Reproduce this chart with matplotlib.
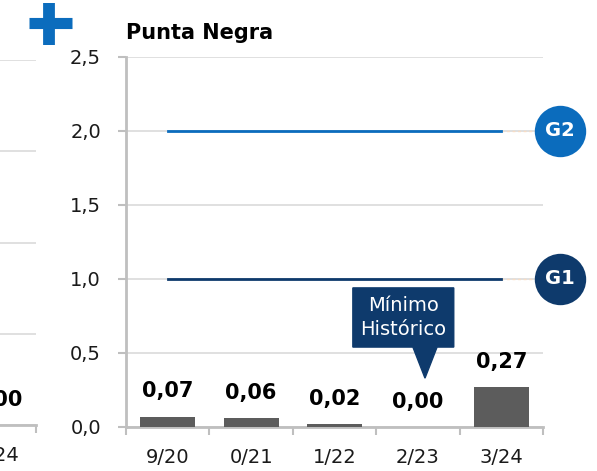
import matplotlib.pyplot as plt
import numpy as np
from matplotlib.lines import Line2D
from matplotlib.patches import Polygon

# Data
years = ["9/20", "0/21", "1/22", "2/23", "3/24"]
volumes = [0.07, 0.06, 0.02, 0.00, 0.27]
g1_level = 1.0
g2_level = 2.0
min_idx = 3  # "Mínimo Histórico"

# neighbouring panel (only its right edge is visible)
left_years = ["3/24"]
left_volumes = [0.00]

navy = "#0E3A6C"
blue = "#0B6CBD"
grey_bar = "#5C5C5C"
grid_c = "#DADADA"
spine_c = "#BFBFBF"

def fmt(v, d=2):
    return f"{v:.{d}f}".replace(".", ",")

fig = plt.figure(figsize=(5.97, 4.71), dpi=100)
W, H = 597, 471

# ---- main panel
ax = fig.add_axes([126/W, 1-427/H, (543-126)/W, (427-57)/H])
x = np.arange(len(years))
ax.bar(x, volumes, width=0.66, color=grey_bar, zorder=3)
ax.set_xlim(-0.5, len(years)-0.5)
ax.set_ylim(0, 2.5)
ax.set_yticks(np.arange(0, 2.51, 0.5))
ax.set_yticklabels([fmt(v, 1) for v in np.arange(0, 2.51, 0.5)])
ax.grid(axis="y", color=grid_c, lw=1.2, zorder=0)
ax.set_xticks(x)
ax.set_xticklabels(years)
ax.set_xticks(np.arange(-0.5, len(years)), minor=True)
ax.tick_params(axis="x", which="major", length=0, pad=15, labelsize=14, labelcolor="#1a1a1a")
ax.tick_params(axis="x", which="minor", length=6, width=1.5, color=spine_c)
ax.tick_params(axis="y", length=6, width=1.5, color=spine_c, pad=12, labelsize=14, labelcolor="#1a1a1a")
for s in ["top", "right"]:
    ax.spines[s].set_visible(False)
for s in ["left", "bottom"]:
    ax.spines[s].set_color(spine_c)
    ax.spines[s].set_linewidth(2)

# guide levels
ax.plot([x[0], x[-1]], [g2_level, g2_level], color=blue, lw=2, zorder=4)
ax.plot([x[0], x[-1]], [g1_level, g1_level], color=navy, lw=2, zorder=4)
for lvl, col, lab in [(g2_level, blue, "G2"), (g1_level, navy, "G1")]:
    ax.plot([x[-1], 4.7], [lvl, lvl], color="#F8DCC4", lw=1, ls=(0, (2, 2)), zorder=2, clip_on=False)
    ax.plot([4.7], [lvl], marker="o", ms=37, color=col, mew=0, clip_on=False, zorder=5)
    ax.text(4.7, lvl, lab, color="white", fontsize=14, fontweight="bold",
            ha="center", va="center", clip_on=False, zorder=6)

# value labels
for xi, v in zip(x, volumes):
    ax.annotate(fmt(v), (xi, v), xytext=(0, 14), textcoords="offset points",
                ha="center", va="baseline", fontsize=15, fontweight="bold", color="black")

# callout pointing at the historic minimum
cx = x[min_idx]
box = [(cx-0.78, 0.54), (cx-0.06, 0.54), (cx+0.085, 0.33), (cx+0.23, 0.54),
       (cx+0.43, 0.54), (cx+0.43, 0.94), (cx-0.78, 0.94)]
ax.add_patch(Polygon(box, closed=True, color=navy, zorder=6, clip_on=False))
ax.text(cx-0.175, 0.74, "Mínimo\nHistórico", color="white", fontsize=14,
        ha="center", va="center", linespacing=1.3, zorder=7)

fig.text(126/W, 1-33/H, "Punta Negra", fontsize=15, fontweight="bold", va="center", ha="left")

# blue plus sign
fig.add_artist(Line2D([29/W, 72/W], [1-23/H, 1-23/H], color=blue, lw=8, solid_capstyle="butt"))
fig.add_artist(Line2D([49/W, 49/W], [1-3/H, 1-45/H], color=blue, lw=8.5, solid_capstyle="butt"))

# ---- neighbouring panel, cut by the frame
ax0 = fig.add_axes([-42/W, 1-425/H, 78/W, (425-60)/H])
x0 = np.arange(len(left_years))
ax0.bar(x0, left_volumes, width=0.66, color=grey_bar)
ax0.set_xlim(-0.5, 0.5)
ax0.set_ylim(0, 2.0)
ax0.set_yticks(np.arange(0, 2.01, 0.5))
ax0.tick_params(axis="y", length=0, labelleft=False)
ax0.grid(axis="y", color=grid_c, lw=1.2)
ax0.set_xticks(x0)
ax0.set_xticklabels(left_years)
ax0.set_xticks([0.5], minor=True)
ax0.tick_params(axis="x", which="major", length=0, pad=15, labelsize=14, labelcolor="#1a1a1a")
ax0.tick_params(axis="x", which="minor", length=6, width=1.5, color=spine_c)
for s in ["top", "right", "left"]:
    ax0.spines[s].set_visible(False)
ax0.spines["bottom"].set_color(spine_c)
ax0.spines["bottom"].set_linewidth(2)
for xi, v in zip(x0, left_volumes):
    ax0.annotate(fmt(v), (xi, v), xytext=(0, 14), textcoords="offset points",
                 ha="center", va="baseline", fontsize=15, fontweight="bold")

fig.savefig("out.png", dpi=100)
